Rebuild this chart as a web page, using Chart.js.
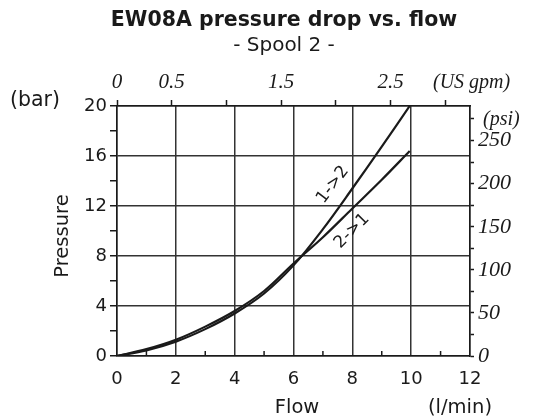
<!DOCTYPE html>
<html>
<head>
<meta charset="utf-8">
<script src="https://cdn.jsdelivr.net/npm/chart.js@4.4.1/dist/chart.umd.min.js"></script>
<style>
  html, body { margin: 0; padding: 0; background: #fff; }
  #wrap { width: 541px; height: 419px; }
</style>
</head>
<body>
<div id="wrap"><canvas id="pressureChart" width="541" height="419"></canvas></div>
<script>
// flow in l/min, pressure drop in bar
const flow = [0, 1, 2, 3, 4, 5, 6, 7, 8, 9, 9.95];
const drop12 = [0, 0.45, 1.15, 2.15, 3.4, 5.0, 7.25, 10.15, 13.4, 16.75, 20.0];
const drop21 = [0, 0.55, 1.3, 2.35, 3.6, 5.2, 7.4, 9.5, 11.8, 14.1, 16.4];
const seriesNames = ['1->2', '2->1'];

// which ticks carry a label
const barLabels = [0, 4, 8, 12, 16, 20];
const flowLabels = [0, 2, 4, 6, 8, 10, 12];
const gpmLabels = [0, 0.5, 1.5, 2.5];
const psiLabels = [0, 50, 100, 150, 200, 250];

const BAR_TO_PSI = 14.5038;
const LMIN_PER_GPM = 3.72; // secondary scale as it is drawn on the sheet

// where the curve names sit (data coords) and how they are turned
const nameSpots = [
	{ x: 7.34, y: 13.7, angle: -53 },
	{ x: 7.99, y: 10.0, angle: -45 }
];

const ink = '#1a1a1a';
const sans = 'DejaVu Sans';
const serif = 'Liberation Serif';

function toPoints(ys) {
	return flow.map((f, i) => ({ x: f, y: ys[i] }));
}

function fixSize(w, h) {
	return function(scale) {
		if (w != null) scale.width = w;
		if (h != null) scale.height = h;
	};
}

const sheetText = {
	id: 'sheetText',
	afterDraw(chart) {
		let ctx = chart.ctx;
		let sx = chart.scales.x;
		let sy = chart.scales.y;
		let area = chart.chartArea;

		ctx.save();
		ctx.fillStyle = ink;
		ctx.strokeStyle = ink;

		// minor flow ticks sit inside the frame
		ctx.lineWidth = 1.5;
		for (let v = 1; v < 12; v += 2) {
			let px = sx.getPixelForValue(v);
			ctx.beginPath();
			ctx.moveTo(px, area.bottom);
			ctx.lineTo(px, area.bottom - 5);
			ctx.stroke();
		}

		ctx.textAlign = 'center';
		ctx.textBaseline = 'middle';
		ctx.font = 'bold 20.5px "' + sans + '"';
		ctx.fillText('EW08A pressure drop vs. flow', 284, 21);
		ctx.font = '20px "' + sans + '"';
		ctx.fillText('- Spool 2 -', 284, 46);

		ctx.font = '20.5px "' + sans + '"';
		ctx.textAlign = 'left';
		ctx.fillText('(bar)', 10, 101);
		ctx.font = '19.5px "' + sans + '"';
		ctx.textAlign = 'center';
		ctx.fillText('Flow', 297, 408);
		ctx.fillText('(l/min)', 460, 408);

		ctx.save();
		ctx.translate(63, 236);
		ctx.rotate(-Math.PI / 2);
		ctx.fillText('Pressure', 0, 0);
		ctx.restore();

		ctx.font = 'italic 20px "' + serif + '"';
		ctx.textAlign = 'left';
		ctx.fillText('(US gpm)', 433, 83);
		ctx.fillText('(psi)', 483, 120);

		// curve names
		ctx.font = '17px "' + sans + '"';
		ctx.textAlign = 'center';
		nameSpots.forEach((s, i) => {
			ctx.save();
			ctx.translate(sx.getPixelForValue(s.x), sy.getPixelForValue(s.y));
			ctx.rotate(s.angle * Math.PI / 180);
			ctx.fillText(seriesNames[i], 0, 0);
			ctx.restore();
		});

		ctx.restore();
	}
};

let config = {
	type: 'line',
	data: {
		datasets: [
			{ label: seriesNames[0], data: toPoints(drop12) },
			{ label: seriesNames[1], data: toPoints(drop21) }
		]
	},
	options: {
		responsive: false,
		animation: false,
		layout: { padding: 0 },
		elements: {
			point: { radius: 0 },
			line: {
				borderColor: ink,
				borderWidth: 2.2,
				fill: false,
				tension: 0.35
			}
		},
		plugins: {
			legend: { display: false },
			tooltip: { enabled: false }
		},
		scales: {
			x: {
				type: 'linear',
				position: 'bottom',
				min: 0,
				max: 12,
				afterFit: fixSize(null, 63),
				ticks: {
					stepSize: 1,
					autoSkip: false,
					maxRotation: 0,
					padding: 13,
					color: ink,
					font: { family: sans, size: 18 },
					callback: v => flowLabels.includes(v) ? String(v) : ''
				},
				grid: {
					drawTicks: false,
					lineWidth: 1.5,
					color: c => c.tick && c.tick.value % 2 === 0 ? '#333' : 'rgba(0,0,0,0)'
				},
				border: { color: ink, width: 1.5 }
			},
			x2: {
				type: 'linear',
				position: 'top',
				min: 0,
				max: 12 / LMIN_PER_GPM,
				afterFit: fixSize(null, 106),
				ticks: {
					stepSize: 0.5,
					includeBounds: false,
					autoSkip: false,
					maxRotation: 0,
					padding: 5,
					color: ink,
					font: { family: serif, size: 21, style: 'italic' },
					callback: v => gpmLabels.includes(v) ? String(v) : ''
				},
				grid: {
					drawOnChartArea: false,
					tickLength: 6,
					tickWidth: 1.5,
					tickColor: ink
				},
				border: { color: ink, width: 1.5 }
			},
			y: {
				type: 'linear',
				position: 'left',
				min: 0,
				max: 20,
				afterFit: fixSize(117, null),
				ticks: {
					stepSize: 2,
					autoSkip: false,
					padding: 3,
					color: ink,
					font: { family: sans, size: 18 },
					callback: v => barLabels.includes(v) ? String(v) : ''
				},
				grid: {
					tickLength: 7,
					tickWidth: 1.5,
					tickColor: ink,
					lineWidth: 1.5,
					color: c => c.tick && c.tick.value % 4 === 0 ? '#333' : 'rgba(0,0,0,0)'
				},
				border: { color: ink, width: 1.5 }
			},
			y2: {
				type: 'linear',
				position: 'right',
				min: 0,
				max: 20 * BAR_TO_PSI,
				afterFit: fixSize(71, null),
				ticks: {
					stepSize: 25,
					includeBounds: false,
					autoSkip: false,
					padding: 4,
					color: ink,
					font: { family: serif, size: 22, style: 'italic' },
					callback: v => psiLabels.includes(v) ? String(v) : ''
				},
				grid: {
					drawOnChartArea: false,
					tickLength: 4,
					tickWidth: 1.5,
					tickColor: ink
				},
				border: { color: ink, width: 1.5 }
			}
		}
	},
	plugins: [sheetText]
};

let pressureChart = new Chart(document.getElementById('pressureChart'), config);
</script>
</body>
</html>
